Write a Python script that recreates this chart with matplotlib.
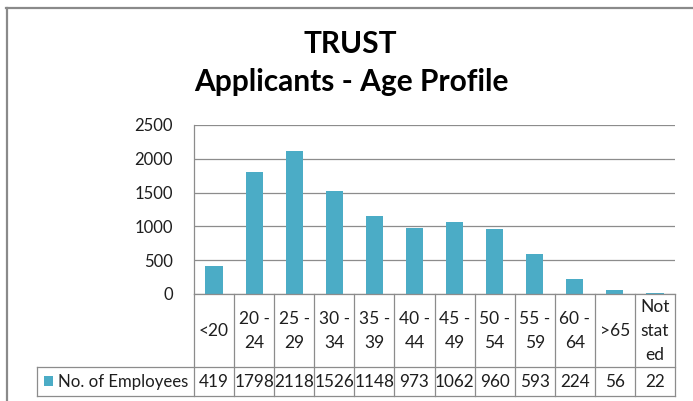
import matplotlib
matplotlib.use("Agg")
import matplotlib.pyplot as plt
from matplotlib.lines import Line2D
from matplotlib.patches import Rectangle

categories = ["<20", "20 -\n24", "25 -\n29", "30 -\n34", "35 -\n39", "40 -\n44",
              "45 -\n49", "50 -\n54", "55 -\n59", "60 -\n64", ">65", "Not\nstat\ned"]
values = [419, 1798, 2118, 1526, 1148, 973, 1062, 960, 593, 224, 56, 22]
series_name = "No. of Employees"
yticks = [0, 500, 1000, 1500, 2000, 2500]
title_lines = ["TRUST", "Applicants - Age Profile"]

FONT = "Lato"
W, H = 693, 401
BAR = "#4BACC6"
GRID = "#8C8C8C"
TXT = "#1E1E1E"

fig = plt.figure(figsize=(W / 100, H / 100), dpi=100)
fig.patch.set_facecolor("white")

def fx(px):
    return px / W

def fy(py):
    return 1 - py / H

# outer frame (extends beyond image on right/bottom)
fig.add_artist(Line2D([fx(6.5), fx(6.5)], [fy(8), fy(H + 5)], color="#8A8A8A", lw=1.6, transform=fig.transFigure))
fig.add_artist(Line2D([fx(6), fx(W + 5)], [fy(8), fy(8)], color="#8A8A8A", lw=1.6, transform=fig.transFigure))

# title
fig.text(fx(350), fy(44), title_lines[0], ha="center", va="center", fontsize=21.5, fontweight="bold", family=FONT, color="black")
fig.text(fx(351), fy(82), title_lines[1], ha="center", va="center", fontsize=21.5, fontweight="bold", family=FONT, color="black")

left, right, top, bottom = 194, 675, 125, 294
ax = fig.add_axes([fx(left), fy(bottom), (right - left) / W, (bottom - top) / H])
x = list(range(len(categories)))
ax.bar(x, values, width=0.43, color=BAR, zorder=3)
ax.set_xlim(-0.5, len(categories) - 0.5)
ax.set_ylim(0, 2500)
ax.set_yticks(yticks)
ax.set_yticklabels([str(v) for v in yticks], fontsize=12, family=FONT, color=TXT)
ax.tick_params(axis="y", length=0, pad=15)
ax.set_xticks([])
ax.grid(axis="y", color=GRID, lw=0.9, zorder=0)
for s in ["top", "right", "bottom"]:
    ax.spines[s].set_visible(False)
ax.spines["left"].set_color(GRID)
ax.spines["left"].set_linewidth(0.9)

# table drawn in axes: x in data, y in axes fraction
ph = bottom - top
def ay(py):
    return (bottom - py) / ph

trans = ax.get_xaxis_transform()
hdr_bot = ay(367)
row_bot = ay(396)
kw = dict(color=GRID, lw=0.9, transform=trans, clip_on=False, zorder=4)
ax.add_line(Line2D([-0.5, len(categories) - 0.5], [0, 0], **kw))
for k in range(len(categories) + 1):
    ax.add_line(Line2D([k - 0.5, k - 0.5], [0, row_bot], **kw))

colw = (right - left) / len(categories)
def dx(px):
    return -0.5 + (px - left) / colw

x_leg = dx(37)
ax.add_line(Line2D([x_leg, len(categories) - 0.5], [hdr_bot, hdr_bot], **kw))
ax.add_line(Line2D([x_leg, len(categories) - 0.5], [row_bot, row_bot], **kw))
ax.add_line(Line2D([x_leg, x_leg], [hdr_bot, row_bot], **kw))

hdr_mid = ay(331)
row_mid = ay(382)
for i, c in enumerate(categories):
    ax.text(i, hdr_mid, c, ha="center", va="center", fontsize=12.5, family=FONT,
            color=TXT, transform=trans, linespacing=1.65)
    ax.text(i, row_mid, str(values[i]), ha="center", va="center", fontsize=12.3,
            family=FONT, color=TXT, transform=trans)

ax.add_patch(Rectangle((dx(44), ay(386)), dx(53) - dx(44), ay(376) - ay(386),
                       facecolor=BAR, edgecolor="none", transform=trans, clip_on=False))
ax.text(dx(57.5), row_mid, series_name, ha="left", va="center", fontsize=12.1,
        family=FONT, color=TXT, transform=trans)

fig.savefig("out.png", dpi=100)
